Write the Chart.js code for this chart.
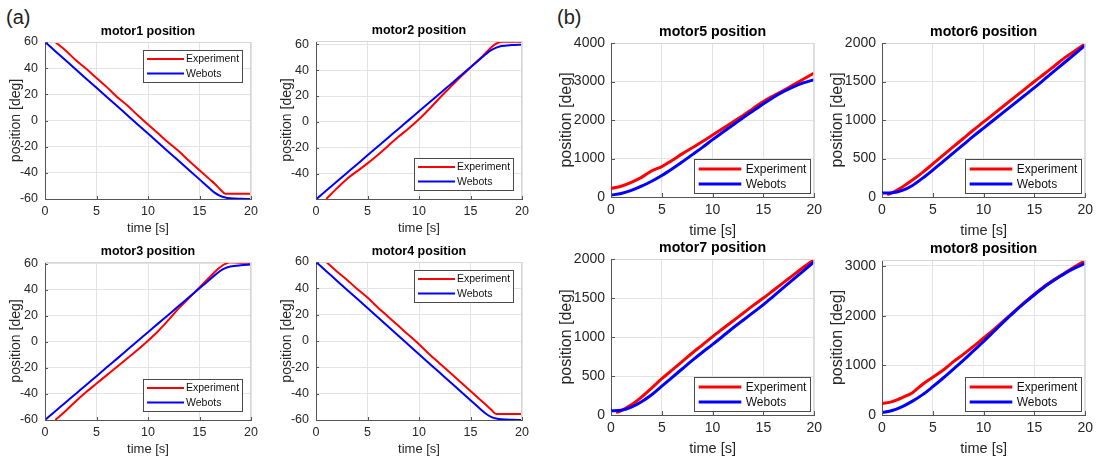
<!DOCTYPE html>
<html>
<head>
<meta charset="utf-8">
<title>motor positions</title>
<script src="https://cdn.jsdelivr.net/npm/chart.js@4.4.1/dist/chart.umd.min.js"></script>
<style>
  html, body { margin: 0; padding: 0; background: #fff; }
  body { width: 1103px; height: 456px; position: relative; overflow: hidden;
         font-family: "Liberation Sans", Arial, Helvetica, sans-serif; }
  .tag { position: absolute; font-size: 20px; color: #222; line-height: 22px; }
  canvas { position: absolute; }
</style>
</head>
<body>
<div class="tag" style="left:6px;top:6px">(a)</div>
<div class="tag" style="left:557px;top:6px">(b)</div>
<canvas id="m1"></canvas>
<canvas id="m2"></canvas>
<canvas id="m3"></canvas>
<canvas id="m4"></canvas>
<canvas id="m5"></canvas>
<canvas id="m6"></canvas>
<canvas id="m7"></canvas>
<canvas id="m8"></canvas>
<script>
/* motor position comparison: experiment vs Webots simulation */

const FONT = '"Liberation Sans", Arial, Helvetica, sans-serif';

// sample times [s]
const tSimA = [0, 1, 2, 3, 4, 5, 6, 7, 8, 9, 10, 11, 12, 13, 14, 15, 16, 16.5, 17, 17.5, 18, 19, 20];
const tExpA = [1, 2, 3, 4, 5, 6, 7, 8, 9, 10, 11, 12, 13, 14, 15, 16, 16.5, 17, 17.5, 18, 19, 20];
const tSimB = [0, 1, 2, 3, 4, 5, 6, 7, 8, 9, 10, 11, 12, 13, 14, 15, 16, 17, 18, 19, 20];
const tExpB = [0, 1, 2, 3, 4, 5, 6, 7, 8, 9, 10, 11, 12, 13, 14, 15, 16, 17, 18, 19, 20];
const tExpB2 = [0.5, 1, 2, 3, 4, 5, 6, 7, 8, 9, 10, 11, 12, 13, 14, 15, 16, 17, 18, 19, 20];

// tick values
const xTicks = [0, 5, 10, 15, 20];
const yTicks60 = [-60, -40, -20, 0, 20, 40, 60];
const yTicks60top = [-40, -20, 0, 20, 40, 60];
const yTicks4000 = [0, 1000, 2000, 3000, 4000];
const yTicks3000 = [0, 1000, 2000, 3000];
const yTicks2000 = [0, 500, 1000, 1500, 2000];

const seriesNames = ['Experiment', 'Webots'];
const seriesColors = ['#ff0000', '#0000ff'];
const xLabel = 'time [s]';
const yLabel = 'position [deg]';

// (a) position [deg]
const motor1Exp = [60, 53.5, 46, 39.5, 32.5, 25.5, 18, 11.5, 4, -3, -10, -17, -23.5, -31, -38, -45, -48.5, -52.5, -56, -56, -56, -56];
const motor1Sim = [60, 53, 46, 39, 32, 25, 18, 11, 4, -3, -10, -17, -24, -31, -38, -45, -52, -55.3, -57.6, -58.9, -59.5, -59.9, -60];
const motor2Exp = [-59.5, -51.5, -44, -38, -32, -25.5, -18.5, -11.5, -5, 2, 10, 18.5, 26.5, 34.5, 42, 49.5, 53.5, 57.5, 60.5, 62, 62, 62];
const motor2Sim = [-59.8, -53, -46.2, -39.4, -32.6, -25.8, -19, -12.2, -5.4, 1.4, 8.2, 15, 21.8, 28.6, 35.4, 42.2, 49, 52.4, 55.4, 57.4, 58.6, 59.4, 59.7];
const motor3Exp = [-60, -53, -45.5, -38.5, -32, -25.5, -19, -12.5, -6, 1, 8.5, 17, 26, 34, 42, 50, 54, 57.5, 60, 61.3, 61, 60.8];
const motor3Sim = [-60, -53.3, -46.5, -39.8, -33, -26.3, -19.5, -12.8, -6, 0.8, 7.5, 14.3, 21, 27.8, 34.5, 41.3, 48, 51.4, 54.6, 56.8, 58, 59, 59.5];
const motor4Exp = [60, 53, 46.5, 39.5, 33, 25.5, 18.5, 11.5, 4.5, -2.5, -10, -17, -24, -31, -38, -45, -48.5, -52, -55.5, -55.5, -55.5, -55.5];
const motor4Sim = [60, 53, 46, 39, 32, 25, 18, 11, 4, -3, -10, -17, -24, -31, -38, -45, -52, -55.3, -57.6, -58.9, -59.5, -59.9, -60];

// (b) position [deg]
const motor5Exp = [220, 280, 380, 510, 680, 790, 950, 1120, 1280, 1440, 1610, 1780, 1950, 2120, 2300, 2480, 2630, 2770, 2920, 3070, 3220];
const motor5Sim = [50, 90, 170, 280, 410, 560, 730, 910, 1100, 1290, 1490, 1680, 1870, 2060, 2240, 2420, 2590, 2740, 2870, 2970, 3050];
const motor6Exp = [30, 55, 130, 220, 320, 430, 540, 650, 760, 870, 975, 1080, 1185, 1290, 1395, 1500, 1600, 1705, 1810, 1900, 1990];
const motor6Sim = [52, 55, 85, 150, 245, 350, 460, 570, 680, 790, 895, 1000, 1105, 1210, 1315, 1420, 1530, 1640, 1750, 1860, 1970];
const motor7Exp = [30, 55, 130, 230, 345, 465, 575, 685, 795, 900, 1005, 1105, 1205, 1305, 1405, 1500, 1600, 1700, 1800, 1900, 1990];
const motor7Sim = [55, 60, 100, 170, 260, 370, 480, 590, 700, 805, 905, 1010, 1115, 1215, 1315, 1415, 1525, 1635, 1745, 1855, 1965];
const motor8Exp = [230, 270, 350, 450, 620, 760, 900, 1070, 1220, 1380, 1550, 1720, 1900, 2080, 2260, 2430, 2590, 2730, 2860, 2990, 3110];
const motor8Sim = [50, 90, 170, 280, 410, 570, 740, 920, 1100, 1290, 1480, 1680, 1880, 2070, 2250, 2420, 2580, 2720, 2850, 2960, 3050];

// look of the two figure halves
const STYLES = {
  a: { padL: 40, padR: 12, padT: 30, padB: 37, tick: 12.5, xLabel: 13, yLabel: 14, title: 12.5, titleGap: 10, yTitleX: 11,
       line: 2, legW: 100, legH: 33, legMargin: 8, legLine: [4, 41], legRows: [9, 23.5], legText: 43, legFont: 10.5, tickLen: 3 },
  b: { padL: 54, padR: 12, padT: 30, padB: 43, tick: 14, xLabel: 14.5, yLabel: 16, title: 14.2, titleGap: 10.5, yTitleX: 10,
       line: 3, legW: 117, legH: 35, legMargin: 3, legLine: [4.7, 47.3], legRows: [10, 25], legText: 51.7, legFont: 12, tickLen: 4 }
};

// plot boxes [left, top, right, bottom] in page pixels
const PANELS = [
  { id: 'm1', title: 'motor1 position', style: 'a', box: [45, 42, 251, 199], y: [-60, 60], yTicks: yTicks60, exp: [tExpA, motor1Exp], sim: [tSimA, motor1Sim], legend: 'ne' },
  { id: 'm2', title: 'motor2 position', style: 'a', box: [316, 41, 522, 199], y: [-59.5, 62.5], yTicks: yTicks60top, exp: [tExpA, motor2Exp], sim: [tSimA, motor2Sim], legend: 'se' },
  { id: 'm3', title: 'motor3 position', style: 'a', box: [45, 262, 251, 420], y: [-60, 61.5], yTicks: yTicks60, exp: [tExpA, motor3Exp], sim: [tSimA, motor3Sim], legend: 'se' },
  { id: 'm4', title: 'motor4 position', style: 'a', box: [316, 262, 522, 420], y: [-60, 60], yTicks: yTicks60, exp: [tExpA, motor4Exp], sim: [tSimA, motor4Sim], legend: 'ne' },
  { id: 'm5', title: 'motor5 position', style: 'b', box: [611, 43, 815, 197], y: [0, 4000], yTicks: yTicks4000, exp: [tExpB, motor5Exp], sim: [tSimB, motor5Sim], legend: 'se' },
  { id: 'm6', title: 'motor6 position', style: 'b', box: [882, 43, 1086, 197], y: [0, 2000], yTicks: yTicks2000, exp: [tExpB2, motor6Exp], sim: [tSimB, motor6Sim], legend: 'se' },
  { id: 'm7', title: 'motor7 position', style: 'b', box: [611, 259, 815, 415], y: [0, 2000], yTicks: yTicks2000, exp: [tExpB2, motor7Exp], sim: [tSimB, motor7Sim], legend: 'se' },
  { id: 'm8', title: 'motor8 position', style: 'b', box: [882, 260, 1086, 415], y: [0, 3120], yTicks: yTicks3000, exp: [tExpB, motor8Exp], sim: [tSimB, motor8Sim], legend: 'se' }
];

const toPoints = (ts, vs) => ts.map((t, i) => ({ x: t, y: vs[i] }));

// MATLAB-like frame, inward ticks, centred title and a legend inside the axes
const axesDecor = {
  id: 'axesDecor',
  afterDraw(chart, args, opts) {
    const { ctx, chartArea: a } = chart;
    const s = opts.style;
    const xs = chart.scales.x, ys = chart.scales.y;
    ctx.save();

    ctx.strokeStyle = '#d6d6d6';
    ctx.lineWidth = 1;
    ctx.beginPath();
    ctx.moveTo(a.left, a.top + 0.5); ctx.lineTo(a.right, a.top + 0.5);
    ctx.moveTo(a.right - 0.5, a.top); ctx.lineTo(a.right - 0.5, a.bottom);
    ctx.stroke();

    ctx.strokeStyle = '#555';
    ctx.beginPath();
    xs.ticks.forEach(t => {
      const px = Math.round(xs.getPixelForValue(t.value)) + 0.5;
      ctx.moveTo(px, a.bottom); ctx.lineTo(px, a.bottom - s.tickLen);
    });
    ys.ticks.forEach(t => {
      const py = Math.round(ys.getPixelForValue(t.value)) + 0.5;
      ctx.moveTo(a.left, py); ctx.lineTo(a.left + s.tickLen, py);
    });
    ctx.stroke();

    ctx.fillStyle = '#000';
    ctx.font = 'bold ' + s.title + 'px ' + FONT;
    ctx.textAlign = 'center';
    ctx.textBaseline = 'middle';
    ctx.fillText(opts.title, (a.left + a.right) / 2, a.top - s.titleGap);

    const x0 = Math.round(a.right - s.legMargin - s.legW);
    const y0 = Math.round(opts.corner === 'ne' ? a.top + s.legMargin : a.bottom - s.legMargin - s.legH);
    ctx.fillStyle = '#fff';
    ctx.fillRect(x0, y0, s.legW, s.legH);
    ctx.strokeStyle = '#4a4a4a';
    ctx.lineWidth = 1;
    ctx.strokeRect(x0 + 0.5, y0 + 0.5, s.legW - 1, s.legH - 1);
    ctx.font = s.legFont + 'px ' + FONT;
    ctx.textAlign = 'left';
    chart.data.datasets.forEach((ds, i) => {
      const y = y0 + s.legRows[i];
      ctx.strokeStyle = ds.borderColor;
      ctx.lineWidth = ds.borderWidth;
      ctx.beginPath();
      ctx.moveTo(x0 + s.legLine[0], y); ctx.lineTo(x0 + s.legLine[1], y);
      ctx.stroke();
      ctx.fillStyle = '#111';
      ctx.fillText(ds.label, x0 + s.legText, y + 0.5);
    });
    ctx.restore();
  }
};

function makePanel(p) {
  const s = STYLES[p.style];
  const [l, t, r, b] = p.box;
  const canvas = document.getElementById(p.id);
  canvas.width = (r - l) + s.padL + s.padR;
  canvas.height = (b - t) + s.padT + s.padB;
  canvas.style.left = (l - s.padL) + 'px';
  canvas.style.top = (t - s.padT) + 'px';

  const yLh = s.yLabel * 1.2;
  const axisText = '#262626';
  const gridColor = '#e3e3e3';

  return new Chart(canvas, {
    type: 'line',
    data: {
      datasets: [
        { label: seriesNames[0], data: toPoints(p.exp[0], p.exp[1]), borderColor: seriesColors[0],
          borderWidth: s.line, pointRadius: 0, cubicInterpolationMode: 'monotone', order: 1 },
        { label: seriesNames[1], data: toPoints(p.sim[0], p.sim[1]), borderColor: seriesColors[1],
          borderWidth: s.line, pointRadius: 0, cubicInterpolationMode: 'monotone', order: 0 }
      ]
    },
    options: {
      responsive: false,
      animation: false,
      devicePixelRatio: 1,
      layout: { padding: { left: 0, right: s.padR, top: s.padT, bottom: 0 } },
      plugins: {
        legend: { display: false },
        tooltip: { enabled: false },
        title: { display: false },
        axesDecor: { style: s, corner: p.legend, title: p.title }
      },
      scales: {
        x: {
          type: 'linear', min: 0, max: 20,
          afterBuildTicks: sc => { sc.ticks = xTicks.map(v => ({ value: v })); },
          afterFit: sc => { sc.height = s.padB; },
          ticks: { color: axisText, padding: 5, maxRotation: 0, callback: v => String(v),
                   font: { family: FONT, size: s.tick } },
          grid: { color: gridColor, drawTicks: false },
          border: { color: '#555', width: 1 },
          title: { display: true, text: xLabel, color: axisText,
                   font: { family: FONT, size: s.xLabel }, padding: { top: 0, bottom: 0 } }
        },
        y: {
          type: 'linear', min: p.y[0], max: p.y[1],
          afterBuildTicks: sc => { sc.ticks = p.yTicks.map(v => ({ value: v })); },
          afterFit: sc => { sc.width = s.padL; },
          ticks: { color: axisText, padding: p.style === 'a' ? 7 : 6, callback: v => String(v),
                   font: { family: FONT, size: s.tick } },
          grid: { color: gridColor, drawTicks: false },
          border: { color: '#555', width: 1 },
          title: { display: true, text: yLabel, color: axisText,
                   font: { family: FONT, size: s.yLabel }, padding: { top: s.yTitleX - yLh / 2, bottom: 0 } }
        }
      }
    },
    plugins: [axesDecor]
  });
}

document.addEventListener('DOMContentLoaded', () => {
  PANELS.forEach(makePanel);
});
</script>
</body>
</html>
